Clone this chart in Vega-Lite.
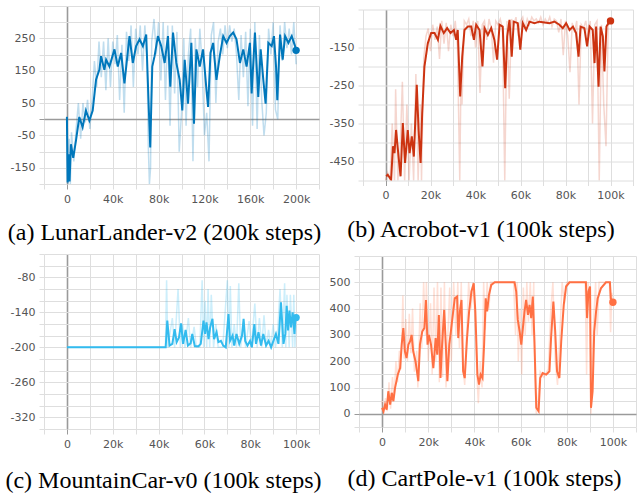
{
"$schema": "https://vega.github.io/schema/vega-lite/v6.json",
"padding": {"left": 5, "top": 0, "right": 2, "bottom": 0},
"background": "white",
"config": {
 "view": {"stroke": null},
 "axis": {"labelFont": "DejaVu Sans", "labelFontSize": 11, "labelColor": "#555555", "tickSize": 5, "labelPadding": 4, "domain": false, "title": null, "tickCount": 100,
  "gridColor": {"condition": {"test": "datum.value == 0", "value": "#9a9a9a"}, "value": "#dedede"},
  "gridWidth": {"condition": {"test": "datum.value == 0", "value": 1.6}, "value": 1},
  "tickColor": {"condition": {"test": "datum.value == 0", "value": "#9a9a9a"}, "value": "#dedede"}},
 "title": {"font": "Liberation Serif", "fontSize": 24, "fontWeight": "normal", "color": "#000000", "orient": "bottom", "anchor": "middle"}
},
"datasets": {
 "a_s": [{"step":0,"reward":7},{"step":0.6,"reward":-195},{"step":1.5,"reward":-108},{"step":2.3,"reward":-192},{"step":3.5,"reward":-77},{"step":5.5,"reward":-119},{"step":7.9,"reward":-66},{"step":10.8,"reward":7},{"step":13.7,"reward":-25},{"step":16.6,"reward":27},{"step":19.6,"reward":-4},{"step":22.5,"reward":27},{"step":25.4,"reward":122},{"step":28.3,"reward":153},{"step":29.8,"reward":195},{"step":32.7,"reward":153},{"step":34.2,"reward":184},{"step":37.1,"reward":163},{"step":41.5,"reward":216},{"step":44.4,"reward":163},{"step":47.3,"reward":205},{"step":50.2,"reward":111},{"step":54.6,"reward":257},{"step":57.5,"reward":174},{"step":60.4,"reward":226},{"step":63.4,"reward":247},{"step":66.3,"reward":226},{"step":69.2,"reward":262},{"step":71.2,"reward":59},{"step":72.7,"reward":-87},{"step":74.5,"reward":163},{"step":76.5,"reward":195},{"step":79.4,"reward":257},{"step":82.3,"reward":226},{"step":85.3,"reward":174},{"step":88.2,"reward":257},{"step":90.2,"reward":101},{"step":92.6,"reward":268},{"step":95.5,"reward":174},{"step":98.4,"reward":122},{"step":100.7,"reward":27},{"step":102.8,"reward":184},{"step":105.7,"reward":48},{"step":108.6,"reward":236},{"step":110.9,"reward":-14},{"step":113,"reward":216},{"step":115.9,"reward":163},{"step":118.8,"reward":216},{"step":121.8,"reward":90},{"step":123.2,"reward":38},{"step":125.3,"reward":205},{"step":127.6,"reward":236},{"step":130.5,"reward":122},{"step":133.4,"reward":195},{"step":136.4,"reward":257},{"step":139.3,"reward":236},{"step":142.2,"reward":257},{"step":145.1,"reward":268},{"step":148,"reward":247},{"step":151,"reward":174},{"step":153.9,"reward":216},{"step":156.8,"reward":163},{"step":159.7,"reward":236},{"step":161.2,"reward":80},{"step":164.1,"reward":268},{"step":167,"reward":69},{"step":169.1,"reward":216},{"step":171.4,"reward":122},{"step":173.4,"reward":48},{"step":175.8,"reward":236},{"step":178.7,"reward":226},{"step":180.7,"reward":257},{"step":182.5,"reward":163},{"step":183.6,"reward":59},{"step":186,"reward":262},{"step":188.3,"reward":184},{"step":190.4,"reward":257},{"step":193.3,"reward":236},{"step":196.2,"reward":257},{"step":199.1,"reward":226},{"step":200,"reward":213}],
 "a_r": [{"step":0,"reward":10},{"step":1,"reward":-200},{"step":2,"reward":-60},{"step":3,"reward":-200},{"step":4,"reward":-40},{"step":6,"reward":-130},{"step":8,"reward":-30},{"step":10,"reward":50},{"step":12,"reward":-60},{"step":14,"reward":50},{"step":16,"reward":-10},{"step":18,"reward":60},{"step":20,"reward":-30},{"step":22,"reward":60},{"step":24,"reward":180},{"step":26,"reward":100},{"step":28,"reward":240},{"step":30,"reward":130},{"step":32,"reward":240},{"step":34,"reward":90},{"step":36,"reward":250},{"step":38,"reward":100},{"step":40,"reward":240},{"step":42,"reward":170},{"step":44,"reward":260},{"step":46,"reward":60},{"step":48,"reward":230},{"step":50,"reward":20},{"step":52,"reward":270},{"step":54,"reward":180},{"step":56,"reward":290},{"step":58,"reward":100},{"step":60,"reward":280},{"step":62,"reward":200},{"step":64,"reward":290},{"step":66,"reward":150},{"step":68,"reward":290},{"step":70,"reward":180},{"step":71,"reward":-80},{"step":72,"reward":-200},{"step":73,"reward":-150},{"step":74,"reward":240},{"step":76,"reward":310},{"step":78,"reward":200},{"step":80,"reward":300},{"step":82,"reward":120},{"step":84,"reward":300},{"step":86,"reward":60},{"step":88,"reward":290},{"step":90,"reward":-20},{"step":92,"reward":290},{"step":94,"reward":80},{"step":96,"reward":270},{"step":98,"reward":-100},{"step":100,"reward":20},{"step":102,"reward":250},{"step":104,"reward":-20},{"step":106,"reward":200},{"step":108,"reward":280},{"step":110,"reward":-130},{"step":112,"reward":250},{"step":114,"reward":100},{"step":116,"reward":280},{"step":118,"reward":170},{"step":120,"reward":-50},{"step":122,"reward":20},{"step":124,"reward":-130},{"step":126,"reward":260},{"step":128,"reward":300},{"step":130,"reward":50},{"step":132,"reward":240},{"step":134,"reward":280},{"step":136,"reward":200},{"step":138,"reward":290},{"step":140,"reward":220},{"step":142,"reward":290},{"step":144,"reward":240},{"step":146,"reward":280},{"step":148,"reward":200},{"step":150,"reward":60},{"step":152,"reward":260},{"step":154,"reward":130},{"step":156,"reward":270},{"step":158,"reward":40},{"step":160,"reward":280},{"step":162,"reward":-20},{"step":164,"reward":300},{"step":166,"reward":-30},{"step":168,"reward":260},{"step":170,"reward":60},{"step":172,"reward":-50},{"step":174,"reward":20},{"step":176,"reward":280},{"step":178,"reward":200},{"step":180,"reward":300},{"step":182,"reward":30},{"step":184,"reward":0},{"step":186,"reward":290},{"step":188,"reward":180},{"step":190,"reward":300},{"step":192,"reward":220},{"step":194,"reward":280},{"step":196,"reward":200},{"step":198,"reward":300},{"step":200,"reward":170}],
 "b_s": [{"step":0.3,"reward":-489},{"step":1,"reward":-485},{"step":2.5,"reward":-498},{"step":3.3,"reward":-410},{"step":4,"reward":-428},{"step":4.7,"reward":-367},{"step":5.8,"reward":-437},{"step":6.7,"reward":-489},{"step":7.7,"reward":-349},{"step":8.7,"reward":-454},{"step":9.9,"reward":-367},{"step":10.7,"reward":-428},{"step":11.7,"reward":-384},{"step":12.6,"reward":-437},{"step":13.9,"reward":-248},{"step":14.7,"reward":-367},{"step":15.6,"reward":-454},{"step":16.3,"reward":-323},{"step":17.3,"reward":-200},{"step":18.8,"reward":-139},{"step":20.3,"reward":-112},{"step":21.8,"reward":-112},{"step":23.3,"reward":-130},{"step":24.4,"reward":-93},{"step":25.9,"reward":-112},{"step":27.4,"reward":-99},{"step":28.9,"reward":-112},{"step":30.4,"reward":-104},{"step":31.4,"reward":-130},{"step":32.1,"reward":-104},{"step":33.2,"reward":-279},{"step":34.1,"reward":-174},{"step":35.1,"reward":-104},{"step":36.6,"reward":-95},{"step":38.1,"reward":-95},{"step":39.3,"reward":-130},{"step":40.3,"reward":-90},{"step":41.8,"reward":-104},{"step":43.1,"reward":-200},{"step":44,"reward":-99},{"step":45.5,"reward":-117},{"step":47,"reward":-99},{"step":48.4,"reward":-130},{"step":49.6,"reward":-182},{"step":50.7,"reward":-90},{"step":52.1,"reward":-95},{"step":53.2,"reward":-257},{"step":54.1,"reward":-121},{"step":55.1,"reward":-77},{"step":56.1,"reward":-174},{"step":57,"reward":-82},{"step":58.8,"reward":-86},{"step":59.9,"reward":-156},{"step":61,"reward":-86},{"step":62.5,"reward":-104},{"step":64,"reward":-82},{"step":66.2,"reward":-86},{"step":68.4,"reward":-82},{"step":70.7,"reward":-84},{"step":72.9,"reward":-86},{"step":75.1,"reward":-82},{"step":77.3,"reward":-90},{"step":78.8,"reward":-99},{"step":80.3,"reward":-86},{"step":81.8,"reward":-104},{"step":83.3,"reward":-95},{"step":84.7,"reward":-112},{"step":85.8,"reward":-174},{"step":86.7,"reward":-95},{"step":88.4,"reward":-99},{"step":89.6,"reward":-147},{"step":90.7,"reward":-95},{"step":92.1,"reward":-104},{"step":92.9,"reward":-191},{"step":93.6,"reward":-95},{"step":94.7,"reward":-253},{"step":95.6,"reward":-95},{"step":96.6,"reward":-121},{"step":97.3,"reward":-213},{"step":98.2,"reward":-95},{"step":99.1,"reward":-86},{"step":100,"reward":-80}],
 "b_r": [{"step":0,"reward":-500},{"step":1,"reward":-480},{"step":2,"reward":-500},{"step":3,"reward":-350},{"step":4,"reward":-500},{"step":4.5,"reward":-260},{"step":5.5,"reward":-500},{"step":6.5,"reward":-420},{"step":7.5,"reward":-240},{"step":8.5,"reward":-500},{"step":9.5,"reward":-300},{"step":10.5,"reward":-500},{"step":11.5,"reward":-350},{"step":12.5,"reward":-500},{"step":13.5,"reward":-220},{"step":14.5,"reward":-500},{"step":15.5,"reward":-300},{"step":16,"reward":-500},{"step":17,"reward":-180},{"step":18,"reward":-120},{"step":19,"reward":-100},{"step":20,"reward":-160},{"step":21,"reward":-90},{"step":22,"reward":-130},{"step":23,"reward":-95},{"step":24,"reward":-180},{"step":25,"reward":-80},{"step":26,"reward":-140},{"step":27,"reward":-85},{"step":28,"reward":-160},{"step":29,"reward":-90},{"step":30,"reward":-120},{"step":31,"reward":-80},{"step":32,"reward":-150},{"step":33,"reward":-500},{"step":33.5,"reward":-250},{"step":34,"reward":-300},{"step":35,"reward":-80},{"step":36,"reward":-90},{"step":37,"reward":-75},{"step":38,"reward":-120},{"step":39,"reward":-80},{"step":40,"reward":-150},{"step":41,"reward":-80},{"step":42,"reward":-270},{"step":43,"reward":-90},{"step":44,"reward":-80},{"step":45,"reward":-130},{"step":46,"reward":-75},{"step":47,"reward":-100},{"step":48,"reward":-190},{"step":49,"reward":-80},{"step":50,"reward":-90},{"step":51,"reward":-75},{"step":52,"reward":-100},{"step":53,"reward":-500},{"step":54,"reward":-80},{"step":55,"reward":-285},{"step":56,"reward":-75},{"step":57,"reward":-90},{"step":58,"reward":-70},{"step":59,"reward":-120},{"step":60,"reward":-80},{"step":61,"reward":-70},{"step":62,"reward":-100},{"step":63,"reward":-75},{"step":64,"reward":-90},{"step":65,"reward":-70},{"step":66,"reward":-80},{"step":67,"reward":-75},{"step":68,"reward":-85},{"step":69,"reward":-70},{"step":70,"reward":-90},{"step":71,"reward":-75},{"step":72,"reward":-85},{"step":73,"reward":-70},{"step":74,"reward":-95},{"step":75,"reward":-75},{"step":76,"reward":-80},{"step":77,"reward":-110},{"step":78,"reward":-75},{"step":79,"reward":-170},{"step":80,"reward":-80},{"step":81,"reward":-120},{"step":82,"reward":-215},{"step":83,"reward":-85},{"step":84,"reward":-110},{"step":85,"reward":-80},{"step":86,"reward":-300},{"step":87,"reward":-90},{"step":88,"reward":-100},{"step":89,"reward":-80},{"step":90,"reward":-120},{"step":91,"reward":-80},{"step":92,"reward":-350},{"step":93,"reward":-90},{"step":94,"reward":-80},{"step":95,"reward":-500},{"step":96,"reward":-90},{"step":97,"reward":-300},{"step":98,"reward":-410},{"step":99,"reward":-80},{"step":100,"reward":-75}],
 "c_s": [{"step":0,"reward":-200},{"step":43.1,"reward":-200},{"step":43.8,"reward":-154},{"step":44.8,"reward":-197},{"step":46,"reward":-194},{"step":47,"reward":-169},{"step":47.9,"reward":-191},{"step":48.9,"reward":-183},{"step":49.8,"reward":-159},{"step":50.7,"reward":-194},{"step":51.8,"reward":-170},{"step":52.8,"reward":-197},{"step":54,"reward":-193},{"step":54.7,"reward":-177},{"step":55.8,"reward":-198},{"step":57.4,"reward":-198},{"step":58.4,"reward":-194},{"step":59.6,"reward":-154},{"step":60.3,"reward":-177},{"step":60.9,"reward":-157},{"step":61.8,"reward":-186},{"step":62.5,"reward":-166},{"step":63.5,"reward":-151},{"step":64.2,"reward":-186},{"step":65.3,"reward":-174},{"step":66.1,"reward":-191},{"step":67.2,"reward":-189},{"step":68.2,"reward":-197},{"step":69.3,"reward":-200},{"step":70.5,"reward":-143},{"step":71.2,"reward":-189},{"step":72.3,"reward":-180},{"step":73,"reward":-197},{"step":74,"reward":-177},{"step":75.2,"reward":-194},{"step":76.4,"reward":-180},{"step":77.1,"reward":-151},{"step":77.8,"reward":-189},{"step":78.8,"reward":-197},{"step":79.9,"reward":-189},{"step":80.7,"reward":-200},{"step":81.8,"reward":-160},{"step":82.5,"reward":-194},{"step":83.6,"reward":-174},{"step":84.7,"reward":-197},{"step":85.7,"reward":-177},{"step":86.9,"reward":-197},{"step":88,"reward":-189},{"step":89.1,"reward":-200},{"step":90.1,"reward":-189},{"step":91.2,"reward":-177},{"step":92.3,"reward":-194},{"step":93.4,"reward":-123},{"step":94.5,"reward":-194},{"step":95.3,"reward":-177},{"step":95.9,"reward":-129},{"step":96.5,"reward":-171},{"step":97.1,"reward":-137},{"step":97.8,"reward":-166},{"step":98.5,"reward":-140},{"step":99.3,"reward":-177},{"step":99.7,"reward":-149},{"step":100,"reward":-149}],
 "c_r": [{"step":0,"reward":-200},{"step":43,"reward":-200},{"step":43.5,"reward":-85},{"step":44,"reward":-200},{"step":46,"reward":-150},{"step":47,"reward":-200},{"step":48.5,"reward":-100},{"step":49.5,"reward":-200},{"step":50.5,"reward":-160},{"step":51.5,"reward":-200},{"step":53,"reward":-150},{"step":54,"reward":-200},{"step":55.5,"reward":-165},{"step":56.5,"reward":-200},{"step":58,"reward":-200},{"step":59,"reward":-85},{"step":59.7,"reward":-200},{"step":60.3,"reward":-120},{"step":61,"reward":-200},{"step":61.6,"reward":-100},{"step":62.3,"reward":-200},{"step":63,"reward":-110},{"step":64,"reward":-200},{"step":65,"reward":-160},{"step":66,"reward":-200},{"step":68,"reward":-200},{"step":70,"reward":-85},{"step":70.7,"reward":-200},{"step":71.3,"reward":-95},{"step":72,"reward":-200},{"step":73,"reward":-160},{"step":74,"reward":-200},{"step":75,"reward":-90},{"step":75.8,"reward":-200},{"step":77,"reward":-160},{"step":78,"reward":-200},{"step":79.5,"reward":-155},{"step":80.5,"reward":-200},{"step":82,"reward":-125},{"step":83,"reward":-200},{"step":84,"reward":-150},{"step":85,"reward":-200},{"step":86,"reward":-145},{"step":87,"reward":-200},{"step":88,"reward":-170},{"step":89,"reward":-200},{"step":90,"reward":-160},{"step":91,"reward":-200},{"step":92,"reward":-170},{"step":93,"reward":-100},{"step":94,"reward":-200},{"step":95,"reward":-90},{"step":95.5,"reward":-200},{"step":96,"reward":-110},{"step":97,"reward":-200},{"step":97.5,"reward":-110},{"step":98.5,"reward":-200},{"step":99,"reward":-110},{"step":99.5,"reward":-200},{"step":100,"reward":-150}],
 "d_s": [{"step":0,"reward":23},{"step":0.6,"reward":10},{"step":1.3,"reward":35},{"step":2,"reward":16},{"step":2.7,"reward":86},{"step":3.5,"reward":35},{"step":4.2,"reward":80},{"step":4.9,"reward":48},{"step":5.6,"reward":98},{"step":6.8,"reward":149},{"step":7.8,"reward":174},{"step":8.5,"reward":263},{"step":9.2,"reward":326},{"step":9.9,"reward":237},{"step":10.6,"reward":212},{"step":11.4,"reward":263},{"step":12.1,"reward":275},{"step":12.8,"reward":300},{"step":13.5,"reward":237},{"step":14.5,"reward":199},{"step":15.7,"reward":124},{"step":16.4,"reward":263},{"step":17.4,"reward":313},{"step":18.3,"reward":326},{"step":19,"reward":433},{"step":19.7,"reward":263},{"step":20.3,"reward":300},{"step":21.2,"reward":263},{"step":22.2,"reward":174},{"step":23.2,"reward":288},{"step":23.9,"reward":225},{"step":24.6,"reward":376},{"step":25.3,"reward":136},{"step":26,"reward":263},{"step":26.9,"reward":395},{"step":27.6,"reward":263},{"step":28.3,"reward":124},{"step":29.1,"reward":263},{"step":29.8,"reward":313},{"step":30.8,"reward":389},{"step":31.5,"reward":439},{"step":32.5,"reward":446},{"step":33,"reward":288},{"step":33.7,"reward":389},{"step":34.4,"reward":433},{"step":35.1,"reward":162},{"step":35.8,"reward":136},{"step":36.8,"reward":288},{"step":37.7,"reward":389},{"step":38.7,"reward":465},{"step":39.7,"reward":496},{"step":40.4,"reward":389},{"step":41.3,"reward":149},{"step":42,"reward":111},{"step":42.7,"reward":149},{"step":43.5,"reward":136},{"step":44.2,"reward":263},{"step":44.9,"reward":439},{"step":45.5,"reward":389},{"step":46.3,"reward":452},{"step":47.3,"reward":490},{"step":48.8,"reward":500},{"step":57.4,"reward":500},{"step":58.1,"reward":465},{"step":58.8,"reward":357},{"step":59.6,"reward":313},{"step":60.3,"reward":263},{"step":61,"reward":326},{"step":61.7,"reward":389},{"step":62.4,"reward":433},{"step":63.2,"reward":376},{"step":63.9,"reward":414},{"step":64.6,"reward":364},{"step":65.3,"reward":446},{"step":66,"reward":275},{"step":66.8,"reward":23},{"step":67.8,"reward":10},{"step":68.5,"reward":136},{"step":69.6,"reward":155},{"step":71.1,"reward":149},{"step":72.5,"reward":162},{"step":73.2,"reward":288},{"step":74.2,"reward":427},{"step":75,"reward":313},{"step":75.8,"reward":162},{"step":76.8,"reward":136},{"step":77.6,"reward":275},{"step":78.7,"reward":414},{"step":79.7,"reward":484},{"step":81.2,"reward":500},{"step":88.3,"reward":500},{"step":88.8,"reward":364},{"step":89.4,"reward":465},{"step":90.1,"reward":484},{"step":90.5,"reward":23},{"step":91.2,"reward":86},{"step":91.9,"reward":313},{"step":92.7,"reward":389},{"step":93.4,"reward":439},{"step":94.8,"reward":477},{"step":97,"reward":500},{"step":98.7,"reward":500},{"step":99.1,"reward":439},{"step":100,"reward":424}],
 "d_r": [{"step":0,"reward":50},{"step":0.7,"reward":0},{"step":1.5,"reward":60},{"step":2.2,"reward":10},{"step":3,"reward":120},{"step":3.7,"reward":20},{"step":4.5,"reward":140},{"step":5.2,"reward":60},{"step":6,"reward":200},{"step":6.7,"reward":120},{"step":7.5,"reward":240},{"step":8.2,"reward":170},{"step":9,"reward":450},{"step":9.6,"reward":210},{"step":10.3,"reward":360},{"step":11,"reward":200},{"step":11.8,"reward":380},{"step":12.5,"reward":230},{"step":13.2,"reward":400},{"step":14,"reward":160},{"step":15,"reward":240},{"step":15.5,"reward":100},{"step":16.5,"reward":420},{"step":17.2,"reward":250},{"step":18,"reward":500},{"step":18.8,"reward":300},{"step":19.2,"reward":500},{"step":20,"reward":200},{"step":21,"reward":420},{"step":21.7,"reward":150},{"step":22.5,"reward":480},{"step":23.3,"reward":200},{"step":24,"reward":500},{"step":24.8,"reward":120},{"step":25.5,"reward":480},{"step":26.2,"reward":140},{"step":27,"reward":500},{"step":27.7,"reward":100},{"step":28.5,"reward":300},{"step":29.3,"reward":480},{"step":30,"reward":200},{"step":31,"reward":500},{"step":32,"reward":300},{"step":32.8,"reward":500},{"step":33.5,"reward":250},{"step":34.3,"reward":500},{"step":35,"reward":180},{"step":35.8,"reward":110},{"step":36.6,"reward":300},{"step":37.5,"reward":500},{"step":38.5,"reward":400},{"step":39.5,"reward":500},{"step":40.3,"reward":350},{"step":41,"reward":160},{"step":41.7,"reward":40},{"step":42.5,"reward":200},{"step":43.3,"reward":100},{"step":44,"reward":500},{"step":44.7,"reward":320},{"step":45.5,"reward":500},{"step":46.3,"reward":400},{"step":47,"reward":500},{"step":57,"reward":500},{"step":57.8,"reward":300},{"step":58.5,"reward":500},{"step":59,"reward":200},{"step":59.8,"reward":400},{"step":60.5,"reward":150},{"step":61.2,"reward":480},{"step":62,"reward":300},{"step":62.7,"reward":500},{"step":63.4,"reward":350},{"step":64.2,"reward":500},{"step":65,"reward":300},{"step":65.7,"reward":500},{"step":66.2,"reward":150},{"step":66.8,"reward":0},{"step":67.5,"reward":40},{"step":68.5,"reward":160},{"step":70,"reward":140},{"step":72,"reward":170},{"step":73,"reward":380},{"step":74,"reward":500},{"step":75,"reward":200},{"step":76,"reward":110},{"step":77,"reward":300},{"step":78,"reward":500},{"step":79,"reward":420},{"step":80,"reward":500},{"step":88,"reward":500},{"step":88.6,"reward":150},{"step":89.2,"reward":500},{"step":90,"reward":400},{"step":90.5,"reward":0},{"step":91,"reward":200},{"step":91.8,"reward":380},{"step":92.5,"reward":500},{"step":93.2,"reward":300},{"step":94,"reward":500},{"step":97,"reward":500},{"step":98.5,"reward":500},{"step":99,"reward":310},{"step":99.5,"reward":460},{"step":100,"reward":420}]
},
"vconcat": [
 {"hconcat": [
  {"width": 275, "height": 178,
   "title": {"text": "(a) LunarLander-v2 (200k steps)", "offset": 17, "dx": -17},
   "layer": [
    {"data": {"name": "a_r"}, "mark": {"type": "line", "color": "#0077bb", "opacity": 0.25, "strokeWidth": 1.5, "clip": true},
     "encoding": {
      "x": {"field": "step", "type": "quantitative", "scale": {"domain": [-20, 220], "nice": false, "zero": false},
            "axis": {"tickCount": 100, "labelOverlap": false, "labelFlush": false, "values": [-20,0,20,40,60,80,100,120,140,160,180,200,220], "labelExpr": "datum.value == 0 ? '0' : (datum.value > 0 && datum.value <= 200 && datum.value % 40 == 0 ? datum.value + 'k' : '')"}},
      "y": {"field": "reward", "type": "quantitative", "scale": {"domain": [-200, 350], "nice": false, "zero": false},
            "axis": {"tickCount": 100, "labelOverlap": false, "labelFlush": false, "values": [-200,-150,-100,-50,0,50,100,150,200,250,300,350], "labelExpr": "indexof([-150,-50,50,150,250], datum.value) >= 0 ? '' + datum.value : ''"}}}},
    {"data": {"name": "a_s"}, "mark": {"type": "line", "color": "#0077bb", "strokeWidth": 2, "clip": true},
     "encoding": {"x": {"field": "step", "type": "quantitative"}, "y": {"field": "reward", "type": "quantitative"}}},
    {"data": {"name": "a_s"}, "transform": [{"filter": "datum.step == 200"}], "mark": {"type": "circle", "color": "#0077bb", "size": 55, "opacity": 1},
     "encoding": {"x": {"field": "step", "type": "quantitative"}, "y": {"field": "reward", "type": "quantitative"}}}
   ]},
  {"width": 270, "height": 171,
   "title": {"text": "(b) Acrobot-v1 (100k steps)", "offset": 17, "dx": -17},
   "layer": [
    {"data": {"name": "b_r"}, "mark": {"type": "line", "color": "#cc3311", "opacity": 0.2, "strokeWidth": 1.5, "clip": true},
     "encoding": {
      "x": {"field": "step", "type": "quantitative", "scale": {"domain": [-10, 110], "nice": false, "zero": false},
            "axis": {"tickCount": 100, "labelOverlap": false, "labelFlush": false, "values": [-10,0,10,20,30,40,50,60,70,80,90,100,110], "labelExpr": "datum.value == 0 ? '0' : (datum.value > 0 && datum.value <= 100 && datum.value % 20 == 0 ? datum.value + 'k' : '')"}},
      "y": {"field": "reward", "type": "quantitative", "scale": {"domain": [-500, -50], "nice": false, "zero": false},
            "axis": {"tickCount": 100, "labelOverlap": false, "labelFlush": false, "values": [-500,-450,-400,-350,-300,-250,-200,-150,-100,-50], "labelExpr": "indexof([-450,-350,-250,-150], datum.value) >= 0 ? '' + datum.value : ''"}}}},
    {"data": {"name": "b_s"}, "mark": {"type": "line", "color": "#cc3311", "strokeWidth": 2, "clip": true},
     "encoding": {"x": {"field": "step", "type": "quantitative"}, "y": {"field": "reward", "type": "quantitative"}}},
    {"data": {"name": "b_s"}, "transform": [{"filter": "datum.step == 100"}], "mark": {"type": "circle", "color": "#cc3311", "size": 55, "opacity": 1},
     "encoding": {"x": {"field": "step", "type": "quantitative"}, "y": {"field": "reward", "type": "quantitative"}}}
   ]}
 ], "spacing": 44, "bounds": "flush", "center": true},
 {"hconcat": [
  {"width": 275, "height": 175,
   "title": {"text": "(c) MountainCar-v0 (100k steps)", "offset": 20, "dx": -18},
   "layer": [
    {"data": {"name": "c_r"}, "mark": {"type": "line", "color": "#33bbee", "opacity": 0.25, "strokeWidth": 1.5, "clip": true},
     "encoding": {
      "x": {"field": "step", "type": "quantitative", "scale": {"domain": [-10, 110], "nice": false, "zero": false},
            "axis": {"tickCount": 100, "labelOverlap": false, "labelFlush": false, "values": [-10,0,10,20,30,40,50,60,70,80,90,100,110], "labelExpr": "datum.value == 0 ? '0' : (datum.value > 0 && datum.value <= 100 && datum.value % 20 == 0 ? datum.value + 'k' : '')"}},
      "y": {"field": "reward", "type": "quantitative", "scale": {"domain": [-340, -40], "nice": false, "zero": false},
            "axis": {"tickCount": 100, "labelOverlap": false, "labelFlush": false, "values": [-340,-320,-300,-280,-260,-240,-220,-200,-180,-160,-140,-120,-100,-80,-60,-40], "labelExpr": "indexof([-320,-260,-200,-140,-80], datum.value) >= 0 ? '' + datum.value : ''"}}}},
    {"data": {"name": "c_s"}, "mark": {"type": "line", "color": "#33bbee", "strokeWidth": 2, "clip": true},
     "encoding": {"x": {"field": "step", "type": "quantitative"}, "y": {"field": "reward", "type": "quantitative"}}},
    {"data": {"name": "c_s"}, "transform": [{"filter": "datum.step == 100"}], "mark": {"type": "circle", "color": "#33bbee", "size": 55, "opacity": 1},
     "encoding": {"x": {"field": "step", "type": "quantitative"}, "y": {"field": "reward", "type": "quantitative"}}}
   ]},
  {"width": 277, "height": 171,
   "title": {"text": "(d) CartPole-v1 (100k steps)", "offset": 20, "dx": -13},
   "layer": [
    {"data": {"name": "d_r"}, "mark": {"type": "line", "color": "#ff7043", "opacity": 0.22, "strokeWidth": 1.5, "clip": true},
     "encoding": {
      "x": {"field": "step", "type": "quantitative", "scale": {"domain": [-10, 110], "nice": false, "zero": false},
            "axis": {"tickCount": 100, "labelOverlap": false, "labelFlush": false, "values": [-10,0,10,20,30,40,50,60,70,80,90,100,110], "labelExpr": "datum.value == 0 ? '0' : (datum.value > 0 && datum.value <= 100 && datum.value % 20 == 0 ? datum.value + 'k' : '')"}},
      "y": {"field": "reward", "type": "quantitative", "scale": {"domain": [-50, 600], "nice": false, "zero": false},
            "axis": {"tickCount": 100, "labelOverlap": false, "labelFlush": false, "values": [-50,0,50,100,150,200,250,300,350,400,450,500,550,600], "labelExpr": "indexof([0,100,200,300,400,500], datum.value) >= 0 ? '' + datum.value : ''"}}}},
    {"data": {"name": "d_s"}, "mark": {"type": "line", "color": "#ff7043", "strokeWidth": 2, "clip": true},
     "encoding": {"x": {"field": "step", "type": "quantitative"}, "y": {"field": "reward", "type": "quantitative"}}},
    {"data": {"name": "d_s"}, "transform": [{"filter": "datum.step == 100"}], "mark": {"type": "circle", "color": "#ff7043", "size": 55, "opacity": 1},
     "encoding": {"x": {"field": "step", "type": "quantitative"}, "y": {"field": "reward", "type": "quantitative"}}}
   ]}
 ], "spacing": 40, "bounds": "flush", "center": true}
], "spacing": 3
}
